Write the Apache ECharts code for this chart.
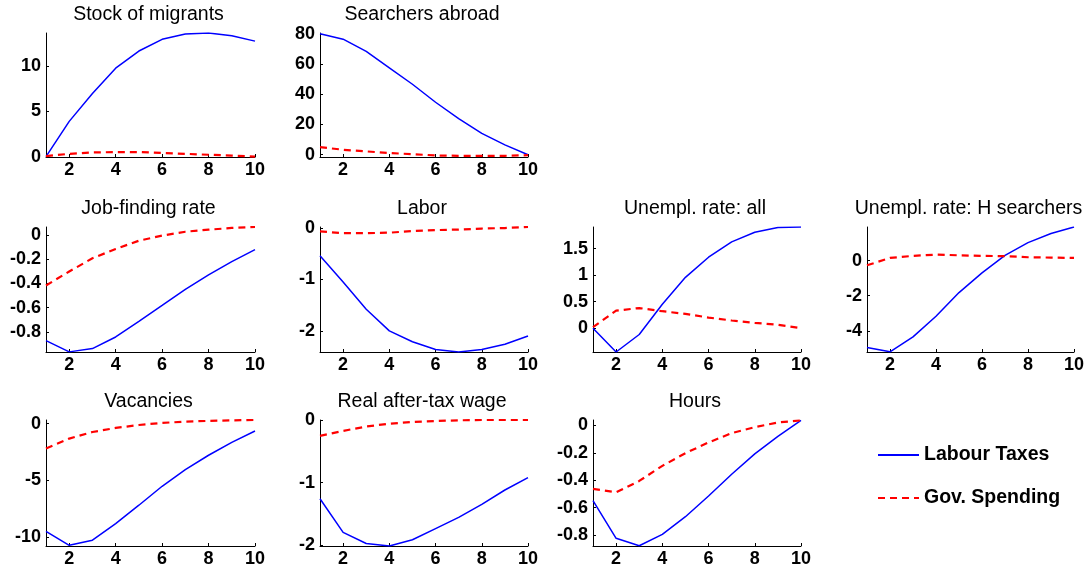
<!DOCTYPE html>
<html>
<head>
<meta charset="utf-8">
<script src="https://cdn.jsdelivr.net/npm/echarts@6/dist/echarts.min.js"></script>
<style>
  html, body { margin: 0; padding: 0; background: #fff; }
  #main { width: 1089px; height: 573px; }
</style>
</head>
<body>
<div id="main"></div>
<script>
// periods after the shock
var periods = [1, 2, 3, 4, 5, 6, 7, 8, 9, 10];

// responses to a labour tax cut (blue) and to government spending (red)
var stockTax = [0, 3.9, 7.0, 9.8, 11.7, 13.0, 13.6, 13.7, 13.4, 12.8];
var stockGov = [0.05, 0.3, 0.45, 0.5, 0.5, 0.4, 0.3, 0.2, 0.1, 0.0];

var searchTax = [80, 76.4, 68.3, 57.5, 46.6, 34.7, 23.9, 14.1, 6.5, 0];
var searchGov = [5, 3.3, 2.2, 1.1, 0.4, -0.5, -0.7, -0.7, -0.7, -0.3];

var jobTax = [-0.871, -0.964, -0.937, -0.841, -0.712, -0.581, -0.449, -0.329, -0.219, -0.121];
var jobGov = [-0.416, -0.301, -0.192, -0.115, -0.047, -0.005, 0.027, 0.044, 0.058, 0.066];

var laborTax = [-0.54, -1.05, -1.58, -2.0, -2.21, -2.36, -2.41, -2.36, -2.26, -2.10];
var laborGov = [-0.065, -0.10, -0.10, -0.09, -0.06, -0.04, -0.03, -0.01, 0.0, 0.02];

var unempTax = [0, -0.45, -0.12, 0.45, 0.96, 1.34, 1.63, 1.81, 1.90, 1.91];
var unempGov = [0.02, 0.33, 0.38, 0.32, 0.27, 0.2, 0.145, 0.10, 0.063, 0.0];

var unempHTax = [-4.95, -5.19, -4.34, -3.17, -1.82, -0.70, 0.30, 1.02, 1.54, 1.91];
var unempHGov = [-0.27, 0.15, 0.27, 0.34, 0.30, 0.27, 0.25, 0.19, 0.17, 0.15];

var vacTax = [-9.5, -10.74, -10.29, -8.82, -7.2, -5.53, -4.06, -2.79, -1.65, -0.65];
var vacGov = [-2.2, -1.32, -0.74, -0.38, -0.12, 0.06, 0.18, 0.24, 0.29, 0.32];

var wageTax = [-1.26, -1.80, -1.98, -2.02, -1.92, -1.74, -1.56, -1.35, -1.12, -0.92];
var wageGov = [-0.25, -0.17, -0.10, -0.054, -0.027, -0.011, 0, 0.005, 0.005, 0.005];

var hoursTax = [-0.549, -0.824, -0.878, -0.795, -0.666, -0.515, -0.356, -0.207, -0.080, 0.037];
var hoursGov = [-0.463, -0.488, -0.405, -0.295, -0.202, -0.124, -0.056, -0.012, 0.022, 0.037];

var xTicks = [2, 4, 6, 8, 10];

var panels = [
  { title: 'Stock of migrants', tax: stockTax, gov: stockGov, ticks: [0, 5, 10], min: -0.05, max: 13.7, row: 0, col: 0 },
  { title: 'Searchers abroad', tax: searchTax, gov: searchGov, ticks: [0, 20, 40, 60, 80], min: -1.5, max: 80.5, row: 0, col: 1 },
  { title: 'Job-finding rate', tax: jobTax, gov: jobGov, ticks: [-0.8, -0.6, -0.4, -0.2, 0], min: -0.965, max: 0.066, row: 1, col: 0 },
  { title: 'Labor', tax: laborTax, gov: laborGov, ticks: [-2, -1, 0], min: -2.41, max: 0.02, row: 1, col: 1 },
  { title: 'Unempl. rate: all', tax: unempTax, gov: unempGov, ticks: [0, 0.5, 1, 1.5], min: -0.45, max: 1.91, row: 1, col: 2 },
  { title: 'Unempl. rate: H searchers', tax: unempHTax, gov: unempHGov, ticks: [-4, -2, 0], min: -5.2, max: 1.91, row: 1, col: 3 },
  { title: 'Vacancies', tax: vacTax, gov: vacGov, ticks: [-10, -5, 0], min: -10.8, max: 0.32, row: 2, col: 0 },
  { title: 'Real after-tax wage', tax: wageTax, gov: wageGov, ticks: [-2, -1, 0], min: -2.02, max: 0.005, row: 2, col: 1 },
  { title: 'Hours', tax: hoursTax, gov: hoursGov, ticks: [-0.8, -0.6, -0.4, -0.2, 0], min: -0.88, max: 0.04, row: 2, col: 2 }
];

var colLeft = [46, 320, 593, 867];
var colWidth = [209, 208, 208, 207];
var rowTop = [33, 227, 420];
var rowHeight = [124, 125, 126];
var titleTop = [5, 199, 392];

var font = '"Liberation Sans", Arial, sans-serif';

function pairs(vals) {
  return periods.map(function (p, i) { return [p, vals[i]]; });
}

var grids = [], xAxes = [], yAxes = [], titles = [], series = [];

panels.forEach(function (p, i) {
  var left = colLeft[p.col], w = colWidth[p.col];
  grids.push({ left: left, top: rowTop[p.row], width: w, height: rowHeight[p.row] });
  titles.push({
    text: p.title,
    left: left + w / 2 - 2,
    top: titleTop[p.row],
    padding: 0,
    textAlign: 'center',
    textStyle: { fontFamily: font, fontSize: 19.5, fontWeight: 'normal', color: '#000' }
  });
  xAxes.push({
    type: 'value', gridIndex: i, min: 1, max: 10,
    axisLine: { onZero: false, lineStyle: { color: '#000', width: 1 } },
    axisTick: { inside: true, length: 3, customValues: xTicks, lineStyle: { color: '#000' } },
    axisLabel: { customValues: xTicks, margin: 4, color: '#000', fontFamily: font, fontSize: 18, fontWeight: 'bold' },
    splitLine: { show: false }
  });
  yAxes.push({
    type: 'value', gridIndex: i, min: p.min, max: p.max,
    axisLine: { show: true, onZero: false, lineStyle: { color: '#000', width: 1 } },
    axisTick: { show: true, inside: true, length: 3, customValues: p.ticks, lineStyle: { color: '#000' } },
    axisLabel: { customValues: p.ticks, margin: 5, color: '#000', fontFamily: font, fontSize: 18, fontWeight: 'bold' },
    splitLine: { show: false }
  });
  series.push({
    name: 'Labour Taxes', type: 'line', xAxisIndex: i, yAxisIndex: i,
    data: pairs(p.tax), symbol: 'circle', showSymbol: false,
    lineStyle: { color: '#0000ff', width: 1.5 }, itemStyle: { color: '#0000ff' }
  });
  series.push({
    name: 'Gov. Spending', type: 'line', xAxisIndex: i, yAxisIndex: i,
    data: pairs(p.gov), symbol: 'circle', showSymbol: false,
    lineStyle: { color: '#ff0000', width: 2.2, type: [7, 5] }, itemStyle: { color: '#ff0000' }
  });
});

var myChart = echarts.init(document.getElementById('main'));
myChart.setOption({
  animation: false,
  title: titles,
  grid: grids,
  xAxis: xAxes,
  yAxis: yAxes,
  legend: {
    data: ['Labour Taxes', 'Gov. Spending'],
    orient: 'vertical',
    left: 877,
    top: 445,
    padding: 0,
    itemWidth: 41,
    itemHeight: 20,
    itemGap: 23,
    itemStyle: { opacity: 0 },
    textStyle: { fontFamily: font, fontSize: 19.5, fontWeight: 'bold', color: '#000' }
  },
  series: series
});
</script>
</body>
</html>
